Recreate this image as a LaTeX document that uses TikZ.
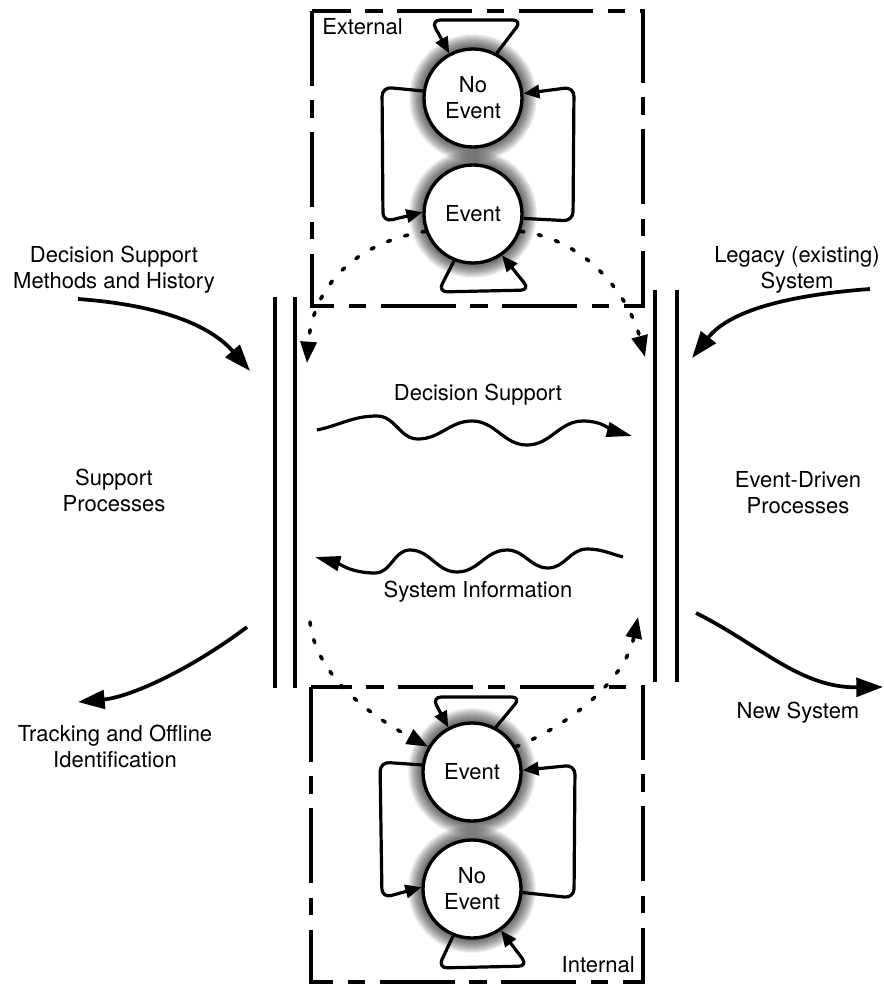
\documentclass[tikz,border=0pt]{standalone}
\usepackage{fontspec}
\setmainfont{TeX Gyre Heros}
\usetikzlibrary{arrows.meta}

% soft dark halo behind a state circle
\newcommand{\glow}[1]{%
  \foreach \k in {1,...,15}{\fill[black,opacity=0.055] (#1) circle[radius={36.75pt+0.75pt*\k}];}}

\begin{document}
\begin{tikzpicture}[x=0.75pt,y=-0.75pt,
  every node/.style={font=\fontsize{16.5}{19.5}\selectfont, align=center, inner sep=0pt},
  state/.style={circle, draw, line width=2.5pt, fill=white, minimum size=73.5pt, inner sep=0pt},
  frame/.style={line width=2.6pt, dash pattern=on 56pt off 11pt on 13pt off 11pt},
  bar/.style={line width=2.5pt},
  loopline/.style={line width=2.4pt, rounded corners=7pt, -{Triangle[length=12pt,width=10pt]}},
  flow/.style={line width=2.8pt, -{Triangle[length=20pt,width=14pt]}},
  wave/.style={line width=2.4pt, -{Triangle[length=19pt,width=11pt]}},
  hop/.style={line width=2.7pt, line cap=round, dash pattern=on 2.5pt off 11pt, -{Triangle[length=16pt,width=12pt]}},
]
\fill[white] (0,0) rectangle (884,985);
\useasboundingbox (0,0) rectangle (884,985);

% state centres
\coordinate (tnc) at (473,98);
\coordinate (tec) at (473,214);
\coordinate (bec) at (472,772);
\coordinate (bnc) at (472,889);
\glow{tnc}\glow{tec}\glow{bec}\glow{bnc}

% external states
\node[state] (tn) at (tnc) {No\\Event};
\node[state] (te) at (tec) {Event};
% internal states
\node[state] (bE) at (bec) {Event};
\node[state] (bn) at (bnc) {No\\Event};

% transitions of the external machine
\draw[loopline] (tn.62) -- (522,20) -- (431,20) -- (tn.118);
\draw[loopline] (tn.172) -- (382,87) -- (383,222) -- (te.178);
\draw[loopline] (te.-5) -- (573,221) -- (574,87) -- (tn.5);
\draw[loopline] (te.-112) -- (438,292) -- (530,290) -- (te.-55);

% transitions of the internal machine
\draw[loopline] (bE.62) -- (521,697) -- (432,697) -- (bE.118);
\draw[loopline] (bE.172) -- (380,762) -- (382,898) -- (bn.178);
\draw[loopline] (bn.-4) -- (574,898) -- (575,765) -- (bE.2);
\draw[loopline] (bn.-112) -- (438,968) -- (528,966) -- (bn.-55);

% boundaries
\draw[frame] (312,11) rectangle (643,306);
\draw[frame] (311,687) rectangle (643,982);
\node[anchor=west] (ext) at (322,27) {External};
\node[anchor=east] (int) at (635,965) {Internal};

% process walls
\draw[bar] (275,297) -- (275,688);
\draw[bar] (295,297) -- (295,688);
\draw[bar] (655,290) -- (655,682);
\draw[bar] (677,290) -- (677,682);

% event hand-offs
\coordinate (hl) at (307,363);
\coordinate (hr) at (645,357);
\coordinate (bl) at (310,622);
\coordinate (br) at (638,617);
\draw[hop] (te.200) .. controls (345,245) and (312,295) .. (hl);
\draw[hop] (te.-20) .. controls (590,240) and (630,300) .. (hr);
\draw[hop] (bl) .. controls (315,670) and (360,710) .. (bE.150);
\draw[hop] (bE.30) .. controls (570,725) and (625,680) .. (br);

% information flows between the walls
\node (ds) at (478,395) {Decision Support};
\node (si) at (478,592) {System Information};
\draw[wave] (317,430) to[out=12,in=180] (377,416) to[out=0,in=180] (418,439)
  to[out=0,in=180] (472,421) to[out=0,in=180] (527,445) to[out=0,in=180] (583,421)
  to[out=0,in=165] (632,436);
\draw[wave] (623,557) to[out=165,in=0] (587,549) to[out=180,in=0] (548,568)
  to[out=180,in=0] (507,550) to[out=180,in=0] (457,572) to[out=180,in=0] (410,550)
  to[out=180,in=0] (375,573) to[out=180,in=-15] (315,557);

% side labels
\node (dsm) at (114,270) {Decision Support\\Methods and History};
\node (leg) at (797,270) {Legacy (existing)\\System};
\node (sp) at (114,490) {Support\\Processes};
\node (edp) at (798,493) {Event-Driven\\Processes};
\node (tr) at (115,746) {Tracking and Offline\\Identification};
\node (ns) at (798,713) {New System};

% inputs and outputs
\coordinate (dsmA) at (78,299);
\coordinate (dsmB) at (250,371);
\coordinate (legA) at (870,289);
\coordinate (legB) at (692,358);
\coordinate (trA) at (247,627);
\coordinate (trB) at (78,702);
\coordinate (nsA) at (696,613);
\coordinate (nsB) at (883,687);
\draw[flow] (dsmA) .. controls (160,305) and (210,325) .. (dsmB);
\draw[flow] (legA) .. controls (790,295) and (730,310) .. (legB);
\draw[flow] (trA) .. controls (190,670) and (130,697) .. (trB);
\draw[flow] (nsA) .. controls (760,645) and (800,688) .. (nsB);
\end{tikzpicture}
\end{document}
